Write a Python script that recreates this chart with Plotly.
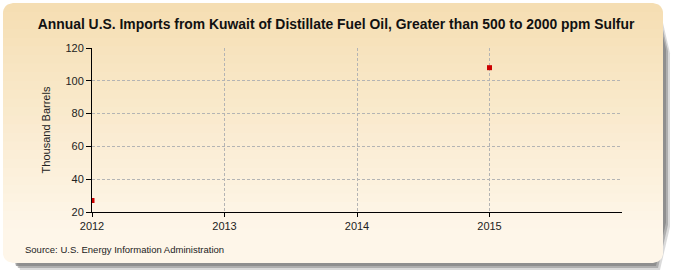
import math
import plotly.graph_objects as go

# ---- data ----
years = [2012, 2015]
values = [27, 108]
title = "Annual U.S. Imports from Kuwait of Distillate Fuel Oil, Greater than 500 to 2000 ppm Sulfur"
y_title = "Thousand Barrels"
source = "Source: U.S. Energy Information Administration"
x_ticks = [2012, 2013, 2014, 2015]
y_ticks = [20, 40, 60, 80, 100, 120]

W, H = 675, 275
ML, MR, MT, MB = 92, 53, 48, 63
PW, PH = W - ML - MR, H - MT - MB


def px(x):
    return (x - ML) / PW


def py(y):
    return 1 - (y - MT) / PH


def rr_extent(y, x0, y0, x1, y1, r):
    d = 0
    if y < y0 + r:
        d = y0 + r - y
    elif y > y1 - r:
        d = y - (y1 - r)
    d = min(d, r)
    off = r - math.sqrt(max(r * r - d * d, 0))
    return x0 + off, x1 - off


def band_path(ya, yb, box, r):
    x0, y0, x1, y1 = box
    n = 6
    ys = [ya + (yb - ya) * k / n for k in range(n + 1)]
    left = []
    right = []
    for y in ys:
        l, rr = rr_extent(y, x0, y0, x1, y1, r)
        left.append((l, y))
        right.append((rr, y))
    pts = right + left[::-1]
    return "M " + " L ".join(f"{px(a):.5f},{py(b):.5f}" for a, b in pts) + " Z"


def lerp(c1, c2, t):
    return tuple(round(a + (b - a) * t) for a, b in zip(c1, c2))


shapes = []
box = (3, 3, 663, 263)
r = 10
for off, col in [(7, "rgba(150,150,150,0.35)"), (5, "rgba(140,140,140,0.55)"), (3, "rgba(130,130,130,0.7)")]:
    sb = (box[0] + off, box[1] + off, box[2] + off, box[3] + off)
    shapes.append(dict(type="path", xref="paper", yref="paper", layer="below",
                       path=band_path(sb[1], sb[3], sb, r), fillcolor=col, line=dict(width=0)))

top_c = (245, 222, 178)
bot_c = (254, 246, 233)
N = 30
for i in range(N):
    ya = box[1] + (box[3] - box[1]) * i / N
    yb = min(box[1] + (box[3] - box[1]) * (i + 1) / N + 0.6, box[3])
    t = (i + 0.5) / N
    c = lerp(top_c, bot_c, min(1, t * 1.15))
    shapes.append(dict(type="path", xref="paper", yref="paper", layer="below",
                       path=band_path(ya, yb, box, r), fillcolor=f"rgb{c}", line=dict(width=0)))

fig = go.Figure()
fig.add_trace(go.Scatter(
    x=years, y=values, mode="markers",
    marker=dict(symbol="square", size=5, color="#CC0000"),
    cliponaxis=True, hoverinfo="x+y",
))

axis_font = dict(family="Liberation Sans, Arial, sans-serif", size=11, color="#222222")
grid = dict(showgrid=True, gridcolor="#B4B4B4", griddash="3px,2px", gridwidth=1,
            showline=True, linecolor="#000000", linewidth=1,
            ticks="outside", tickcolor="#000000", zeroline=False, tickfont=axis_font)
fig.update_layout(
    width=W, height=H,
    margin=dict(l=ML, r=MR, t=MT, b=MB),
    paper_bgcolor="white",
    plot_bgcolor="white",
    showlegend=False,
    shapes=shapes,
    title=dict(text=f"<b>{title}</b>", x=336 / W, xref="container", xanchor="center",
               y=1 - 24 / H, yanchor="middle",
               font=dict(family="Liberation Sans, Arial, sans-serif", size=13.9, color="#111111")),
    xaxis=dict(range=[2012, 2016], tickvals=x_ticks, ticktext=[str(v) for v in x_ticks],
               ticklen=4, **grid),
    yaxis=dict(range=[20, 120], tickvals=y_ticks, ticklen=5,
               title=dict(text=y_title, font=axis_font, standoff=12), **grid),
    annotations=[dict(text=source, xref="paper", yref="paper", x=px(23), y=py(249),
                      xanchor="left", yanchor="middle", showarrow=False,
                      font=dict(family="Liberation Sans, Arial, sans-serif", size=9.5, color="#222222"))],
)

fig.write_html("out.html")
